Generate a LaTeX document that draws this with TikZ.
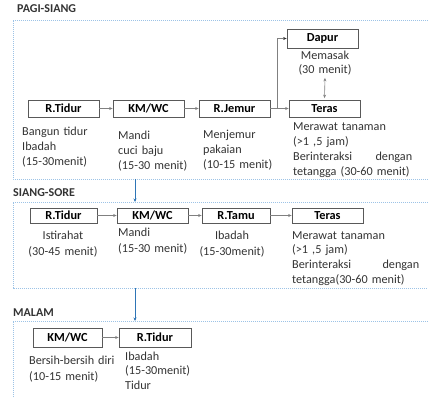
\documentclass[tikz,border=0pt]{standalone}
\usepackage{fontspec}
\setmainfont{Carlito}
\usetikzlibrary{arrows.meta}
\definecolor{framec}{HTML}{9DC3E6}
\definecolor{flowblue}{HTML}{2E75B6}
\definecolor{boxline}{HTML}{595959}
\definecolor{txt}{HTML}{333333}
\definecolor{arrowc}{HTML}{808080}

\begin{document}
\begin{tikzpicture}[x=1pt,y=-1pt,
  room/.style={draw=boxline, line width=0.8pt, fill=white, inner sep=0pt,
    font=\bfseries\fontsize{12.3}{14}\selectfont, text=black},
  note/.style={inner sep=0pt, text=txt, align=left, anchor=base west, text width=#1},
  note/.default=100pt,
  cnote/.style={inner sep=0pt, text=txt, align=center, anchor=base, text width=#1},
  cnote/.default=90pt,
  title/.style={inner sep=0pt, anchor=base west, text=txt,
    font=\bfseries\fontsize{12}{14}\selectfont},
  section/.style={draw=framec, line width=0.9pt, dash pattern=on 1.2pt off 0.8pt},
  flow/.style={draw=arrowc, line width=0.6pt, -{Stealth[length=3.5pt,width=3pt]}},
  flowdark/.style={draw=arrowc, line width=0.6pt, -{Stealth[length=3.5pt,width=3pt,color=black!80]}},
  both/.style={draw=arrowc, line width=0.6pt, {Stealth[length=3.5pt,width=3pt]}-{Stealth[length=3.5pt,width=3pt]}},
  down/.style={draw=flowblue, line width=0.6pt, -{Stealth[length=3.5pt,width=3pt]}}]

\useasboundingbox (0,0) rectangle (428,398);
\clip (0,0) rectangle (428,398);

% section frames, open towards the right edge
\draw[section] (440,20) -- (13,20) -- (13,179) -- (440,179);
\draw[section] (440,202) -- (13,202) -- (13,288) -- (440,288);
\draw[section] (440,321) -- (13,321) -- (13,410);

\node[title] (tpagi)  at (17,13)    {PAGI-SIANG};
\node[title] (tsiang) at (13,196.5) {SIANG-SORE};
\node[title] (tmalam) at (13,316.5) {MALAM};

% ---------- pagi-siang ----------
\node[room, minimum width=71pt, minimum height=17pt] (tidur1) at (63.5,108.5) {R.Tidur};
\node[room, minimum width=71pt, minimum height=17pt] (km1)    at (148.5,108.5) {KM/WC};
\node[room, minimum width=71pt, minimum height=17pt] (jemur1) at (234.5,108.5) {R.Jemur};
\node[room, minimum width=71pt, minimum height=17pt] (teras1) at (324.5,108.5) {Teras};
\node[room, minimum width=71pt, minimum height=19pt] (dapur)  at (322.5,38.5) {Dapur};

\node[cnote=70pt, font=\fontsize{12.2}{14}\selectfont] (masak) at (325,60) {Memasak\\(30 menit)};
\node[note=80pt, font=\fontsize{12.2}{15}\selectfont] (n1a) at (22,136) {Bangun tidur\\Ibadah\\(15-30menit)};
\node[note=80pt, font=\fontsize{12.2}{15}\selectfont] (n1b) at (118,140) {Mandi\\cuci baju\\(15-30 menit)};
\node[note=80pt, font=\fontsize{12.2}{15}\selectfont] (n1c) at (203,139) {Menjemur\\pakaian\\(10-15 menit)};
\node[note=132pt, font=\fontsize{12.2}{14.7}\selectfont] (n1d) at (293,131)
  {Merawat tanaman\\(>1 ,5 jam)\\\makebox[119pt][l]{Berinteraksi\hfill dengan}\\tetangga (30-60 menit)};

\draw[flow] (tidur1) -- (km1);
\draw[flow] (km1) -- (jemur1);
\draw[flow] (jemur1) -- (teras1);
\draw[flowdark] (jemur1.east) -- ++(7,0) |- (dapur.west);
\draw[both, shorten <=2pt, shorten >=1.5pt] (masak.south) -- (teras1.north);

% ---------- siang-sore ----------
\node[room, minimum width=67pt, minimum height=15pt] (tidur2) at (63.5,215.5) {R.Tidur};
\node[room, minimum width=71pt, minimum height=15pt] (km2)    at (152.5,215.5) {KM/WC};
\node[room, minimum width=68pt, minimum height=15pt] (tamu2)  at (236,215.5) {R.Tamu};
\node[room, minimum width=71pt, minimum height=15pt] (teras2) at (327.5,215.5) {Teras};

\node[cnote=80pt, font=\fontsize{12.2}{16.7}\selectfont] (n2a) at (63,239) {Istirahat\\(30-45 menit)};
\node[note=80pt, font=\fontsize{12.2}{16.7}\selectfont] (n2b) at (118,236) {Mandi\\(15-30 menit)};
\node[cnote=80pt, font=\fontsize{12.2}{16.7}\selectfont] (n2c) at (232,239) {Ibadah\\(15-30menit)};
\node[note=132pt, font=\fontsize{12.2}{14.8}\selectfont] (n2d) at (292,239)
  {Merawat tanaman\\(>1 ,5 jam)\\\makebox[127pt][l]{Berinteraksi\hfill dengan}\\tetangga(30-60 menit)};

\draw[flow] (tidur2) -- (km2);
\draw[flow] (km2) -- (tamu2);
\draw[flow] (tamu2) -- (teras2);

% ---------- malam ----------
\node[room, minimum width=69pt, minimum height=19pt] (km3)    at (67.5,337.5) {KM/WC};
\node[room, minimum width=72pt, minimum height=19pt] (tidur3) at (155,337.5) {R.Tidur};

\node[note=92pt, font=\fontsize{12.2}{16}\selectfont] (n3a) at (29,364) {Bersih-bersih diri\\(10-15 menit)};
\node[note=75pt, font=\fontsize{12.2}{14.5}\selectfont] (n3b) at (125,360) {Ibadah\\(15-30menit)\\Tidur};

\draw[flow] (km3) -- (tidur3);

% hand-over between the parts of the day
\coordinate (s1out) at (135,179);
\coordinate (s2in)  at (135,202);
\coordinate (s2out) at (135,288);
\coordinate (s3in)  at (135,321);
\draw[down] (s1out) -- (s2in);
\draw[down] (s2out) -- (s3in);
\end{tikzpicture}
\end{document}
